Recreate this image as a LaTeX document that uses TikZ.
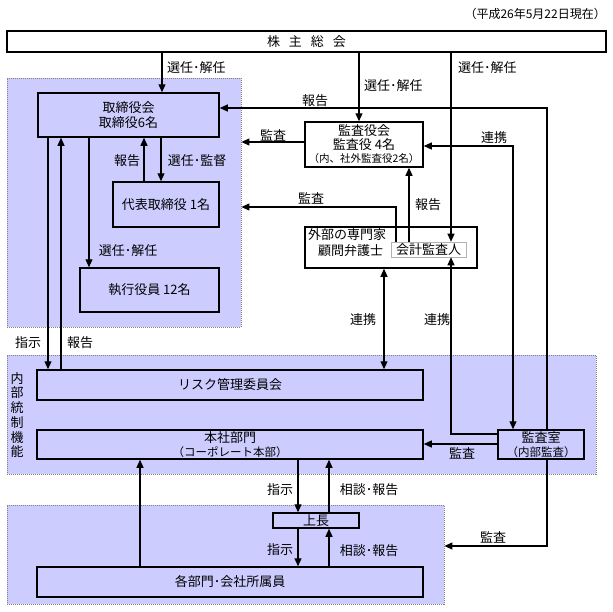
\documentclass[tikz,border=0pt]{standalone}
\usepackage{fontspec}
\newfontfamily\jp{Noto Sans CJK JP}
\usetikzlibrary{arrows.meta}
\definecolor{lav}{RGB}{204,204,255}
\tikzset{
  every node/.style={font=\jp\fontsize{13}{14}\selectfont},
  area/.style={draw=gray, fill=lav, dash pattern=on 1pt off 1pt, line width=0.8pt, inner sep=0pt},
  box/.style={draw=black, line width=1.5pt, inner sep=0pt, align=center},
  conn/.style={line width=1.1pt},
  arr/.style={conn, -{Triangle[length=8pt,width=7pt]}},
  barr/.style={conn, {Triangle[length=8pt,width=7pt]}-{Triangle[length=8pt,width=7pt]}},
  lbl/.style={inner sep=0pt},
}
\newcommand{\paren}[1]{{\fontsize{11.5}{13}\selectfont #1}}
\begin{document}
\begin{tikzpicture}[x=1pt,y=-1pt]
\useasboundingbox (0,0) rectangle (613,611);
% areas
\node[area, minimum width=234pt, minimum height=249pt] (areaTop) at (124,202.5) {};
\node[area, minimum width=589pt, minimum height=119pt] (areaMid) at (301.5,414.5) {};
\node[area, minimum width=437pt, minimum height=99pt] (areaBot) at (225.5,554.5) {};
% date
\node[lbl, anchor=east, font=\jp\fontsize{12}{14}\selectfont] (date) at (606,14) {（平成26年5月22日現在）};
% boxes
\node[box, fill=white, minimum width=599pt, minimum height=21pt] (soukai) at (306.5,41.5) {株\hspace{9pt}主\hspace{9pt}総\hspace{9pt}会};
\node[box, minimum width=181pt, minimum height=44pt, font=\jp\fontsize{13}{15}\selectfont] (tb) at (128.5,115) {取締役会\\取締役6名};
\node[box, minimum width=106pt, minimum height=45pt] (daihyo) at (166,204.5) {代表取締役\ 1名};
\node[box, minimum width=139pt, minimum height=44pt] (shikko) at (149.5,290) {執行役員\ 12名};
\node[box, fill=white, minimum width=118pt, minimum height=45pt, font=\jp\fontsize{13}{13.5}\selectfont] (kansayaku) at (364,144.5) {監査役会\\監査役\ 4名\\{\fontsize{10.5}{12}\selectfont （内、社外監査役2名）}};
\node[box, fill=white, minimum width=172pt, minimum height=41pt] (gaibu) at (391,247.5) {};
\node[lbl, anchor=west] (gaibu1) at (308,235) {外部の専門家};
\node[lbl, anchor=west] (gaibu2) at (318,251) {顧問弁護士};
\node[draw=gray!60, fill=white, line width=0.6pt, inner sep=0pt, minimum width=75pt, minimum height=15pt] (kaikei) at (428.5,249.5) {会計監査人};
\node[box, minimum width=386pt, minimum height=30pt] (risk) at (230,385) {リスク管理委員会};
\node[box, minimum width=386pt, minimum height=29pt, font=\jp\fontsize{13}{14}\selectfont] (honsha) at (230,444.5) {本社部門\\\paren{（コーポレート本部）}};
\node[box, minimum width=86pt, minimum height=29pt] (kansashitsu) at (541,444.5) {監査室\\\paren{（内部監査）}};
\node[box, minimum width=86pt, minimum height=15pt] (joucho) at (316,520.5) {上長};
\node[box, minimum width=386pt, minimum height=30pt] (kakubu) at (230,582) {各部門･会社所属員};
\node[lbl, align=center, font=\jp\fontsize{13}{14.7}\selectfont] (naibu) at (17,415) {内\\部\\統\\制\\機\\能};
% connectors from shareholders meeting
\draw[arr] (soukai.south -| 162,0) -- (tb.north -| 162,0);
\node[lbl, anchor=west] (l1) at (167,68) {選任･解任};
\draw[arr] (soukai.south -| 359,0) -- (kansayaku.north -| 359,0);
\node[lbl, anchor=west] (l2) at (364,86) {選任･解任};
\draw[arr] (soukai.south -| 451,0) -- (kaikei.north -| 451,0);
\node[lbl, anchor=west] (l3) at (458,68) {選任･解任};
% board internal
\draw[arr] (tb.south -| 161,0) -- (daihyo.north -| 161,0);
\node[lbl] (l4) at (197,161) {選任･監督};
\draw[arr] (daihyo.north -| 144,0) -- (tb.south -| 144,0);
\node[lbl] (l5) at (127,161) {報告};
\draw[arr] (tb.south -| 89,0) -- (shikko.north -| 89,0);
\node[lbl] (l6) at (128,251) {選任･解任};
% board <-> risk
\draw[arr] (tb.south -| 48,0) -- (risk.north -| 48,0);
\node[lbl] (l7) at (28,343) {指示};
\draw[arr] (risk.north -| 61,0) -- (tb.south -| 61,0);
\node[lbl] (l8) at (80,343) {報告};
% audit lines
\draw[arr] (kansashitsu.north -| 547,0) |- (tb.east |- 0,108);
\node[lbl] (l9) at (315,101) {報告};
\draw[arr] (kansayaku.west |- 0,142) -- (areaTop.east |- 0,142);
\node[lbl] (l10) at (273,135) {監査};
\draw[arr] (kaikei.north -| 396,0) |- (areaTop.east |- 0,207);
\node[lbl] (l11) at (311,198) {監査};
\draw[arr] (kaikei.north -| 409,0) -- (kansayaku.south -| 409,0);
\node[lbl] (l12) at (428,205) {報告};
\draw[barr] (kansayaku.east |- 0,146) -| (kansashitsu.north -| 513,0);
\node[lbl] (l13) at (494,138) {連携};
\draw[barr] (gaibu.south -| 384,0) -- (risk.north -| 384,0);
\node[lbl] (l14) at (363,320) {連携};
\draw[arr] (kansashitsu.west |- 0,434) -| (kaikei.south -| 451,0);
\node[lbl] (l15) at (437,320) {連携};
\draw[arr] (kansashitsu.west |- 0,444) -- (honsha.east |- 0,444);
\node[lbl] (l16) at (462,453) {監査};
\draw[arr] (kansashitsu.south -| 547,0) |- (areaBot.east |- 0,546);
\node[lbl] (l17) at (493,537) {監査};
% lower connectors
\draw[arr] (kakubu.north -| 140,0) -- (honsha.south -| 140,0);
\draw[arr] (honsha.south -| 298,0) -- (joucho.north -| 298,0);
\node[lbl] (l18) at (280,490) {指示};
\draw[arr] (joucho.north -| 329,0) -- (honsha.south -| 329,0);
\node[lbl] (l19) at (369,490) {相談･報告};
\draw[arr] (joucho.south -| 298,0) -- (kakubu.north -| 298,0);
\node[lbl] (l20) at (280,550) {指示};
\draw[arr] (kakubu.north -| 329,0) -- (joucho.south -| 329,0);
\node[lbl] (l21) at (369,551) {相談･報告};
\end{tikzpicture}
\end{document}
